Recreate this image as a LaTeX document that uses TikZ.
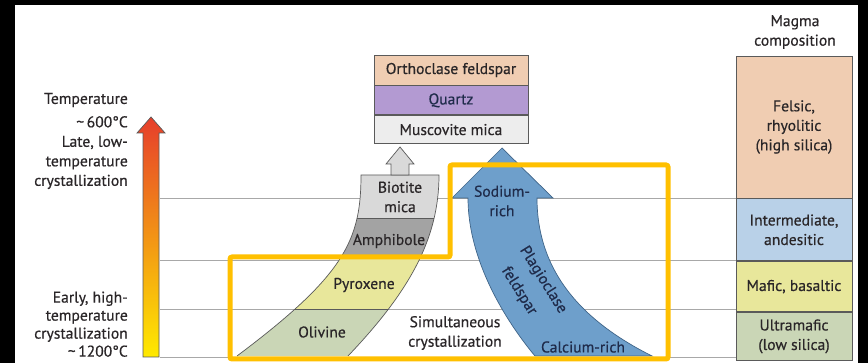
\documentclass[tikz,border=0pt]{standalone}
\usepackage{fontspec}
\setmainfont{PT Sans}[FakeBold=0.5]
\usetikzlibrary{positioning,calc}
\definecolor{ink}      {HTML}{2A2628}
\definecolor{navy}     {HTML}{1F2B4A}
\definecolor{rule}     {HTML}{A8A8A8}
\definecolor{edge}     {HTML}{5A5A5A}
\definecolor{gold}     {HTML}{FFC000}
\definecolor{peach}    {HTML}{F0CDB2}
\definecolor{lilac}    {HTML}{B39AD2}
\definecolor{paper}    {HTML}{EDEDED}
\definecolor{micagray} {HTML}{D9D9D9}
\definecolor{amphgray} {HTML}{A3A3A3}
\definecolor{pyrox}    {HTML}{E8E79B}
\definecolor{olive}    {HTML}{CAD6B6}
\definecolor{plag}     {HTML}{6E9FCB}
\definecolor{plagedge} {HTML}{3F6488}
\definecolor{skyfill}  {HTML}{B9D1E8}
\definecolor{hotred}   {HTML}{E63E2B}
\definecolor{hotorange}{HTML}{F5862A}
\definecolor{hotyellow}{HTML}{FFEA00}
\tikzset{
  every node/.style={font=\fontsize{15.6}{19.5}\selectfont, text=ink},
  % --- boxes
  stack/.style = {draw=edge, line width=0.8pt, minimum width=154pt, inner sep=0pt},
  comp/.style  = {draw=edge, line width=0.8pt, minimum width=116pt, inner sep=0pt,
                  align=center},
  lbl/.style   = {align=center, inner sep=1pt},
  side/.style  = {align=right, anchor=east, inner sep=0pt},
  % --- lines
  level/.style = {draw=rule, line width=0.8pt},
  band/.style  = {draw=edge, line width=0.7pt},
  frame/.style = {draw=gold, line width=5pt, rounded corners=2pt},
}
\begin{document}
\begin{tikzpicture}[x=1pt,y=-1pt]
  \useasboundingbox (0,0) rectangle (868,363);
  \fill[black] (0,0) rectangle (868,363);
  \fill[white] (15,5) rectangle (858,363);
  % temperature levels
  \foreach \yy in {198,260,309,357} \draw[level] (160,\yy) -- (736,\yy);
  % thermometer
  \shade[top color=hotred, middle color=hotorange, bottom color=hotyellow]
    (143,357) -- (143,133) -- (137,133) -- (151,117) -- (165,133) -- (159,133) -- (159,357) -- cycle;
  \draw[edge, line width=0.7pt]
    (143,357) -- (143,133) -- (137,133) -- (151,117) -- (165,133) -- (159,133) -- (159,357) -- cycle;
  \node[side] (tlabel) at (128,100) {Temperature};
  \node[side, anchor=north east] (late) at (128,116) {\char"7E\,600°C\\Late, low-\\temperature\\crystallization};
  \node[side, anchor=south east, font=\fontsize{15.6}{18}\selectfont] (early) at (128,357) {Early, high-\\temperature\\crystallization\\\char"7E\,1200°C};
  % discontinuous branch
  \begin{scope}
    \clip (237,356) .. controls (345,275) and (361,240) .. (361,175) -- (439,175)
          .. controls (439,240) and (408,293) .. (348,356) -- cycle;
    \fill[micagray] (220,170) rectangle (460,218);
    \fill[amphgray] (220,218) rectangle (460,258);
    \fill[pyrox]    (220,258) rectangle (460,309);
    \fill[olive]    (220,309) rectangle (460,360);
    \draw[band] (220,218) -- (460,218) (220,258) -- (460,258) (220,309) -- (460,309);
  \end{scope}
  \draw[band] (237,356) .. controls (345,275) and (361,240) .. (361,175) -- (439,175)
          .. controls (439,240) and (408,293) .. (348,356);
  \node[lbl] (biotite) at (400,197) {Biotite\\mica};
  \node[lbl] (amph) at (389,241) {Amphibole};
  \node[lbl] (pyr) at (364,285) {Pyroxene};
  \node[lbl] (oli) at (322,332) {Olivine};
  % up to the late minerals
  \filldraw[fill=micagray, band]
    (391,175) -- (391,164) -- (386,164) -- (400,147) -- (414,164) -- (409,164) -- (409,175) -- cycle;
  \node[stack, fill=peach, minimum height=30pt] (ortho) at (451,70) {Orthoclase feldspar};
  \node[stack, fill=lilac, minimum height=29pt, below=0pt of ortho, text=navy] (quartz) {Quartz};
  \node[stack, fill=paper, minimum height=28pt, below=0pt of quartz] (musc) {Muscovite mica};
  % continuous branch
  \filldraw[fill=plag, draw=plagedge, line width=0.7pt]
    (452,198) -- (502,148) -- (553,198) -- (537,198) .. controls (537,270) and (580,320) .. (652,356)
    -- (535,356) .. controls (505,320) and (468,260) .. (468,198) -- cycle;
  \node[lbl, text=navy] (sodium) at (502,201) {Sodium-\\rich};
  \node[lbl, text=navy, rotate=-58] (plagio) at (543,280) {Plagioclase};
  \node[lbl, text=navy, rotate=-58] (feldspar) at (519,291) {feldspar};
  \node[lbl, text=navy] (calcium) at (583,347) {Calcium-rich};
  \node[lbl] (simul) at (455,333) {Simultaneous\\crystallization};
  % magma composition
  \node[lbl] (magma) at (795,32) {Magma\\composition};
  \node[comp, fill=peach, minimum height=142pt] (felsic) at (794,127) {Felsic,\\rhyolitic\\(high silica)};
  \node[comp, fill=skyfill, minimum height=62pt, below=0pt of felsic] (inter) {Intermediate,\\andesitic};
  \node[comp, fill=pyrox, minimum height=50pt, below=0pt of inter] (mafic) {Mafic, basaltic};
  \node[comp, fill=olive, minimum height=48pt, below=0pt of mafic] (ultra) {Ultramafic\\(low silica)};
  % highlight
  \draw[frame] (230,257) -- (450,257) -- (450,165) -- (668,165) -- (668,359) -- (230,359) -- cycle;
\end{tikzpicture}
\end{document}
